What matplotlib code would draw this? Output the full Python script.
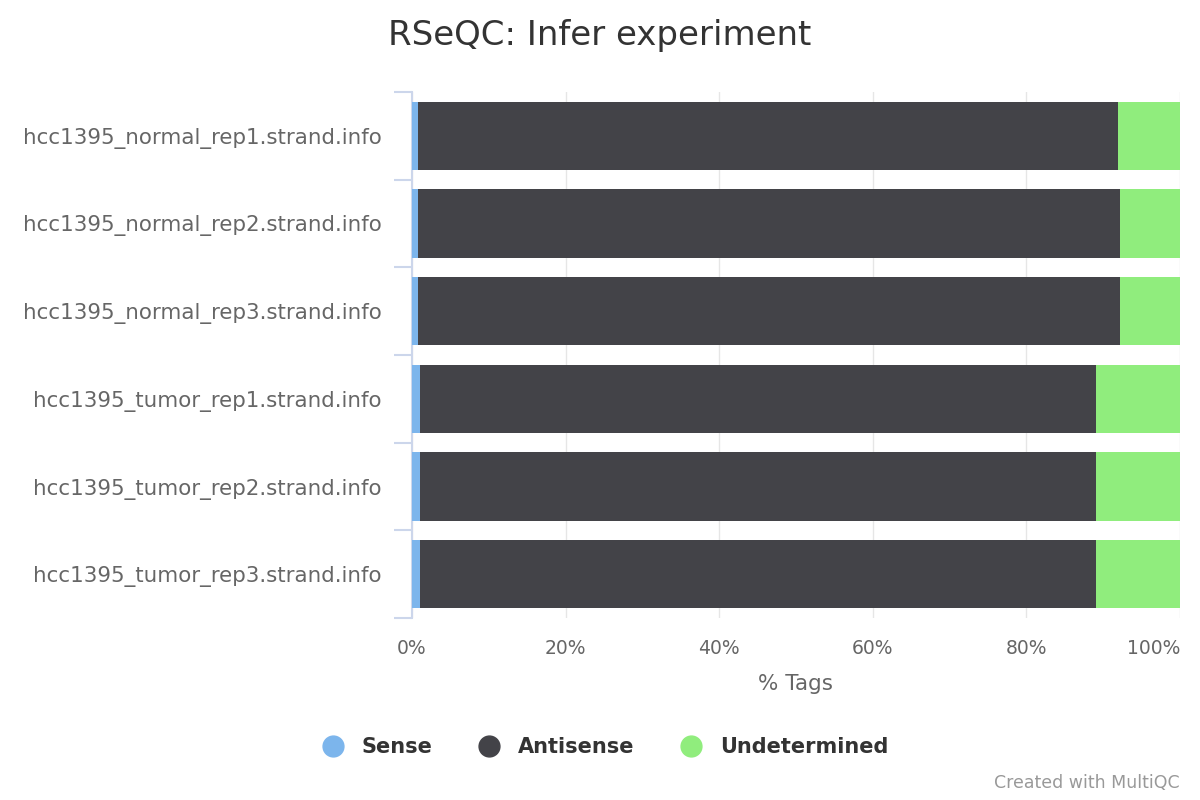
import matplotlib.pyplot as plt
import numpy as np
from matplotlib.lines import Line2D

samples = [
    "hcc1395_normal_rep1.strand.info",
    "hcc1395_normal_rep2.strand.info",
    "hcc1395_normal_rep3.strand.info",
    "hcc1395_tumor_rep1.strand.info",
    "hcc1395_tumor_rep2.strand.info",
    "hcc1395_tumor_rep3.strand.info",
]
sense = [0.8, 0.8, 0.8, 1.05, 1.05, 1.05]
antisense = [91.1, 91.4, 91.4, 88.0, 88.0, 88.0]
undetermined = [8.1, 7.8, 7.8, 10.95, 10.95, 10.95]

series = ["Sense", "Antisense", "Undetermined"]
colors = ["#7cb5ec", "#434348", "#90ed7d"]

plt.rcParams['font.family'] = ['DejaVu Sans']

fig = plt.figure(figsize=(12, 8), dpi=100)
ax = fig.add_axes([0.3433, 0.2275, 0.64, 0.6575])

y = np.arange(len(samples))
left = np.zeros(len(samples))
for name, vals, col in zip(series, [sense, antisense, undetermined], colors):
    ax.barh(y, vals, left=left, height=0.78, color=col, label=name, zorder=3)
    left = left + np.array(vals)

ax.set_xlim(0, 100)
ax.set_ylim(len(samples) - 0.5, -0.5)

ax.set_xticks(np.arange(0, 101, 20))
ax.set_xticklabels([f"{v}%" for v in range(0, 101, 20)])
ax.get_xticklabels()[-1].set_ha('right')
ax.grid(axis='x', color='#e6e6e6', linewidth=1, zorder=0)

ax.set_yticks(y)
ax.set_yticklabels(samples)
ax.set_yticks(np.arange(-0.5, len(samples), 1), minor=True)
ax.tick_params(axis='y', which='major', length=0, pad=22, labelsize=15.4, labelcolor='#666666')
ax.tick_params(axis='y', which='minor', length=13, width=1.5, color='#ccd6eb')
ax.tick_params(axis='x', length=0, pad=15, labelsize=13.5, labelcolor='#666666')

for s in ['top', 'right', 'bottom']:
    ax.spines[s].set_visible(False)
ax.spines['left'].set_color('#ccd6eb')
ax.spines['left'].set_linewidth(1.5)

ax.set_xlabel("% Tags", fontsize=15.5, color='#666666', labelpad=12)

fig.text(0.5, 0.955, "RSeQC: Infer experiment", ha='center', va='center',
         fontsize=24.5, color='#333333')

handles = [Line2D([0], [0], marker='o', linestyle='', markersize=15,
                  markerfacecolor=c, markeredgecolor=c) for c in colors]
fig.legend(handles, series, loc='center', bbox_to_anchor=(0.5, 0.066),
           ncol=3, frameon=False, handletextpad=0.4, columnspacing=1.7,
           prop={'weight': 'bold', 'size': 15}, labelcolor='#333333')

fig.text(0.983, 0.021, "Created with MultiQC", ha='right', va='center',
         fontsize=12.5, color='#999999')

fig.savefig("out.png", dpi=100)
